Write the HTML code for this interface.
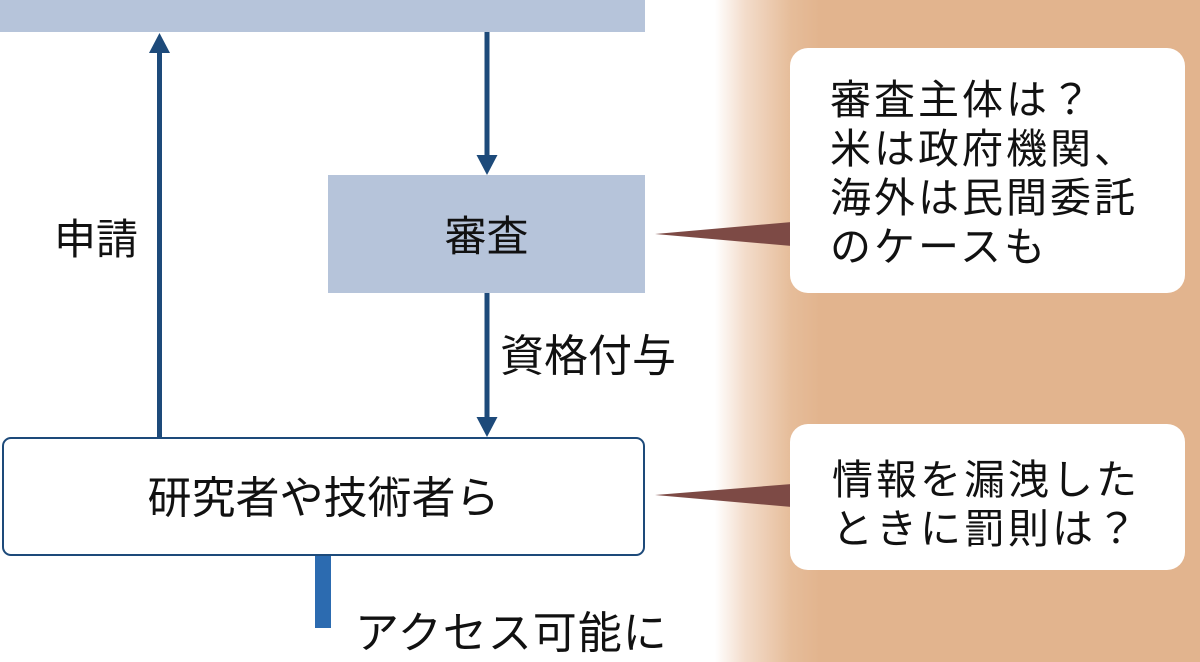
<!DOCTYPE html>
<html><head><meta charset="utf-8"><style>
html,body{margin:0;padding:0}
body{width:1200px;height:628px;position:relative;overflow:hidden;background:linear-gradient(to right,#fff 0,#fff 715px,#f3dccb 745px,#e6bd9a 790px,#e2b48e 820px,#e2b48e 1200px);font-family:"Liberation Sans","Noto Sans CJK JP",sans-serif;color:#111}
.a{position:absolute}
.t{position:absolute;white-space:nowrap}
</style></head><body>
<div class="a" style="left:0;top:0;width:645px;height:32px;background:#b6c4da"></div>
<div class="a" style="left:328px;top:175px;width:317px;height:118px;background:#b6c4da"></div>
<div class="t" style="left:328px;width:317px;text-align:center;top:209px;font-size:42px;line-height:56px">審査</div>
<div class="a" style="left:2px;top:437px;width:639px;height:115px;border:2px solid #1d4a7a;border-radius:9px;background:#fff"></div>
<div class="t" style="left:2px;width:643px;text-align:center;top:469px;font-size:44px;line-height:60px">研究者や技術者ら</div>
<div class="a" style="left:315px;top:556px;width:16px;height:72px;background:#2c6bb0"></div>
<div class="t" style="left:355px;top:606px;font-size:44px;line-height:56px;letter-spacing:1px">アクセス可能に</div>
<svg class="a" style="left:0;top:0" width="1200" height="628">
<g fill="#1d4a7a">
<rect x="157" y="48" width="5" height="389"/><polygon points="159.5,33 149,53 170,53"/>
<rect x="484.5" y="32" width="5" height="128"/><polygon points="487,175 476.5,155 497.5,155"/>
<rect x="484.5" y="293" width="5" height="130"/><polygon points="487,437 476.5,417 497.5,417"/>
</g>
<g fill="#7d4a45">
<polygon points="655,234 792,222 792,246"/>
<polygon points="655,495 792,484 792,507"/>
</g>
</svg>
<div class="t" style="left:54px;top:212px;font-size:42px;line-height:56px">申請</div>
<div class="t" style="left:500px;top:329px;font-size:44px;line-height:56px">資格付与</div>
<div class="a" style="left:790px;top:48px;width:395px;height:245px;background:#fff;border-radius:18px"></div>
<div class="t" style="left:830px;top:76px;font-size:41px;line-height:49px;letter-spacing:3px">審査主体は？<br>米は政府機関、<br>海外は民間委託<br>のケースも</div>
<div class="a" style="left:790px;top:424px;width:395px;height:146px;background:#fff;border-radius:18px"></div>
<div class="t" style="left:832px;top:456px;font-size:41px;line-height:49px;letter-spacing:3px">情報を漏洩した<br>ときに罰則は？</div>
</body></html>
